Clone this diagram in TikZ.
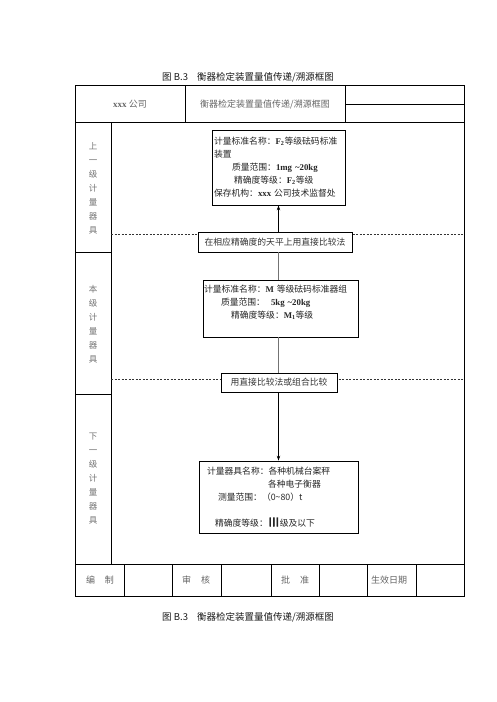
\documentclass[tikz,border=0pt]{standalone}
\usepackage{fontspec}
\setmainfont{Noto Sans CJK SC}
\newfontfamily\latf{Liberation Serif}
\newfontfamily\cjkbold[FakeBold=2.5]{Noto Sans CJK SC}
\usetikzlibrary{arrows.meta}
\newcommand{\lt}[1]{{\latf\bfseries #1}}
\begin{document}
\begin{tikzpicture}[x=1pt,y=-1pt,
  tbl/.style={line width=0.8pt, draw=black},
  dashline/.style={dash pattern=on 2pt off 1.5pt, line width=0.5pt, draw=black!80},
  frame/.style={draw, line width=0.8pt, fill=white, inner xsep=2pt, inner ysep=0pt, align=left, anchor=center, font=\fontsize{8.8}{13}\selectfont, text=black!85},
  labelbox/.style={draw, line width=0.8pt, fill=white, inner sep=0pt, font=\fontsize{8.8}{11}\selectfont, text=black!80},
  side/.style={font=\fontsize{8.5}{14}\selectfont, text=black!55, align=center},
  cell/.style={font=\fontsize{9}{11}\selectfont, text=black!60},
  titlest/.style={font=\fontsize{9.5}{11}\selectfont, text=black!90},
  link/.style={line width=1.2pt, draw=black!55},
  arr/.style={line width=0.8pt, draw=black, -{Stealth[length=5pt,width=3.5pt]}}
]
\useasboundingbox (0,0) rectangle (496,702);
\fill[white] (0,0) rectangle (496,702);

% titles
\node[titlest] (title) at (248,77) {图 B.3\hspace{9pt}衡器检定装置量值传递/溯源框图};
\node[titlest] (caption) at (248,617) {图 B.3\hspace{9pt}衡器检定装置量值传递/溯源框图};

% table grid
\draw[tbl] (75,85) rectangle (464,596);
\draw[tbl] (75,122) -- (464,122);
\draw[tbl] (75,564) -- (464,564);
\draw[tbl] (185,85) -- (185,122);
\draw[tbl] (345,85) -- (345,122);
\draw[tbl] (345,104) -- (464,104);
\draw[tbl] (111,122) -- (111,564);
\draw[tbl] (75,252) -- (111,252);
\draw[tbl] (75,394) -- (111,394);
\foreach \xx in {124,172,221,271,319,367,416}
  \draw[tbl] (\xx,564) -- (\xx,596);

% header texts
\node[cell] (company) at (130,104) {\lt{xxx} 公司};
\node[cell] (head) at (265,104) {衡器检定装置量值传递/溯源框图};

% side labels
\node[side] (s1) at (93,188) {上\\一\\级\\计\\量\\器\\具};
\node[side] (s2) at (93,324) {本\\级\\计\\量\\器\\具};
\node[side] (s3) at (93,479) {下\\一\\级\\计\\量\\器\\具};

% bottom row texts
\node[cell] (c1) at (100,580) {编\hspace{10pt}制};
\node[cell] (c2) at (196,580) {审\hspace{10pt}核};
\node[cell] (c3) at (295,580) {批\hspace{10pt}准};
\node[cell] (c4) at (389,580) {生效日期};

% dashed level lines
\coordinate (d1l) at (111,234.5);
\coordinate (d1r) at (464,234.5);
\coordinate (d2l) at (111,379);
\coordinate (d2r) at (464,379);
\draw[dashline] (d1l) -- (d1r);
\draw[dashline] (d2l) -- (d2r);

% boxes
\node[frame, text width=129pt, minimum height=75pt] (top) at (278.5,167.5)
 {计量标准名称：\lt{F\textsubscript{2}}等级砝码标准\\
  装置\\
  \hspace*{18pt}质量范围：\lt{1mg \textasciitilde20kg}\\
  \hspace*{20pt}精确度等级：\lt{F\textsubscript{2}}等级\\
  保存机构：\lt{xxx} 公司技术监督处};

\node[labelbox, minimum width=154pt, minimum height=20pt] (lab1) at (275,242)
 {在相应精确度的天平上用直接比较法};

\node[frame, inner xsep=1pt, text width=153pt, minimum height=57pt] (mid) at (280.5,308.5)
 {计量标准名称：\lt{M} 等级砝码标准器组\\
  \hspace*{17pt}质量范围：\hspace{6pt}\lt{5kg \textasciitilde20kg}\\
  \hspace*{27pt}精确度等级：\lt{M\textsubscript{1}}等级\\
  \mbox{}};

\node[labelbox, minimum width=116pt, minimum height=19pt] (lab2) at (279,382.5)
 {用直接比较法或组合比较};

\node[frame, text width=155pt, minimum height=72pt] (bot) at (278.5,497)
 {\hspace*{6pt}计量器具名称：各种机械台案秤\\
  \hspace*{67pt}各种电子衡器\\
  \hspace*{17pt}测量范围：（0\textasciitilde80）t\\[13pt]
  \hspace*{14pt}精确度等级：{\cjkbold\large Ⅲ}级及以下};

% connectors
\draw[arr] (lab1.north -| top.south) -- (top.south);
\draw[link] (lab1.south -| top.south) -- (mid.north -| top.south);
\draw[link] (mid.south -| top.south) -- (lab2.north -| top.south);
\draw[arr] (lab2.south -| top.south) -- (bot.north -| top.south);
\end{tikzpicture}
\end{document}
